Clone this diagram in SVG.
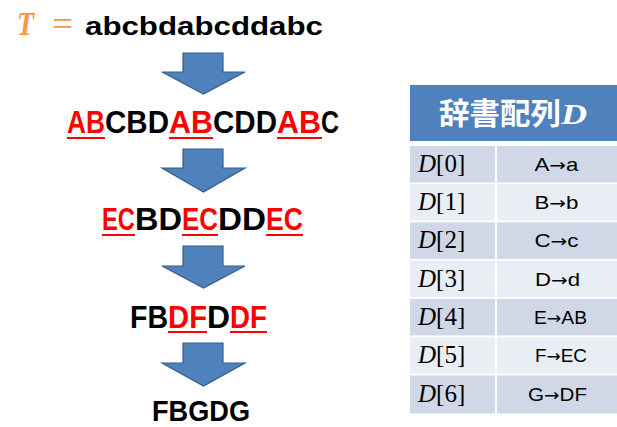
<svg xmlns="http://www.w3.org/2000/svg" width="617" height="427" viewBox="0 0 617 427">
<style>
.s{font-family:"Liberation Sans","DejaVu Sans",sans-serif;font-weight:bold;font-size:32px}
.r{fill:#ff0000}
.k{fill:#000000}
.ul{fill:#ff0000}
.arr{fill:#4f81bd;stroke:#385d8a;stroke-width:1.2}
.hd{fill:#4f81bd}
.dk{fill:#d0d8e8}
.lt{fill:#e9edf4}
.idx{font-family:"Liberation Serif","DejaVu Serif",serif;font-size:25px;fill:#000}
.val{font-family:"Liberation Sans","DejaVu Sans",sans-serif;font-size:19px;fill:#000;text-anchor:middle}
.ar{font-family:"DejaVu Sans",sans-serif;font-size:17px}
</style>
<rect width="617" height="427" fill="#ffffff"/>
<g id="line1">
<text y="35"><tspan x="17" font-family="Liberation Serif,serif" font-style="italic" font-weight="bold" font-size="33" fill="#f79646" textLength="17" lengthAdjust="spacingAndGlyphs">T</tspan><tspan x="52" font-family="Liberation Serif,serif" font-size="33" fill="#f79646" textLength="21" lengthAdjust="spacingAndGlyphs">=</tspan><tspan x="85" font-family="Liberation Sans,sans-serif" font-weight="bold" font-size="26" fill="#000" textLength="238" lengthAdjust="spacingAndGlyphs">abcbdabcddabc</tspan></text>
</g>
<g id="line2" class="s">
<text y="133"><tspan x="67" class="r" textLength="38" lengthAdjust="spacingAndGlyphs">AB</tspan><tspan x="105" class="k" textLength="64" lengthAdjust="spacingAndGlyphs">CBD</tspan><tspan x="169" class="r" textLength="44" lengthAdjust="spacingAndGlyphs">AB</tspan><tspan x="213" class="k" textLength="64" lengthAdjust="spacingAndGlyphs">CDD</tspan><tspan x="277" class="r" textLength="44" lengthAdjust="spacingAndGlyphs">AB</tspan><tspan x="321" class="k" textLength="18" lengthAdjust="spacingAndGlyphs">C</tspan></text>
<rect class="ul" x="67" y="137" width="38" height="2"/>
<rect class="ul" x="169" y="137" width="44" height="2"/>
<rect class="ul" x="277" y="137" width="45" height="2"/>
</g>
<g id="line3" class="s">
<text y="230"><tspan x="102" class="r" textLength="33" lengthAdjust="spacingAndGlyphs">EC</tspan><tspan x="135" class="k" textLength="47" lengthAdjust="spacingAndGlyphs">BD</tspan><tspan x="182" class="r" textLength="36" lengthAdjust="spacingAndGlyphs">EC</tspan><tspan x="218" class="k" textLength="48" lengthAdjust="spacingAndGlyphs">DD</tspan><tspan x="266" class="r" textLength="37" lengthAdjust="spacingAndGlyphs">EC</tspan></text>
<rect class="ul" x="102" y="234" width="33" height="2"/>
<rect class="ul" x="182" y="234" width="36" height="2"/>
<rect class="ul" x="266" y="234" width="37" height="2"/>
</g>
<g id="line4" class="s">
<text y="328"><tspan x="130" class="k" textLength="38" lengthAdjust="spacingAndGlyphs">FB</tspan><tspan x="168" class="r" textLength="39" lengthAdjust="spacingAndGlyphs">DF</tspan><tspan x="207" class="k" textLength="23" lengthAdjust="spacingAndGlyphs">D</tspan><tspan x="230" class="r" textLength="37" lengthAdjust="spacingAndGlyphs">DF</tspan></text>
<rect class="ul" x="168" y="331" width="39" height="2"/>
<rect class="ul" x="230" y="331" width="37" height="2"/>
</g>
<g id="line5">
<text x="152" y="421" font-family="Liberation Sans,sans-serif" font-weight="bold" font-size="30" fill="#000" textLength="98" lengthAdjust="spacingAndGlyphs">FBGDG</text>
</g>
<g id="connectors">
<path class="arr" d="M183,53 H223 V72 H245 L203.5,94 L162,72 H183 Z"/>
<path class="arr" d="M183,149 H223 V168 H245 L203.5,192 L162,168 H183 Z"/>
<path class="arr" d="M183,246 H223 V266 H245 L203.5,288 L162,266 H183 Z"/>
<path class="arr" d="M183,343 H223 V363 H245 L203.5,386 L162,363 H183 Z"/>
</g>
<g id="table">
<rect class="hd" x="410" y="85" width="207" height="56"/>
<text y="124"><tspan x="439" font-family="Noto Sans CJK JP,Noto Sans CJK SC,sans-serif" font-weight="bold" font-size="30" fill="#ffffff" textLength="122" lengthAdjust="spacingAndGlyphs">辞書配列</tspan><tspan x="561" font-family="Liberation Serif,serif" font-style="italic" font-weight="bold" font-size="30" fill="#ffffff" textLength="26" lengthAdjust="spacingAndGlyphs">D</tspan></text>
<g id="row0"><rect class="dk" x="410" y="146" width="85" height="36.5"/><rect class="dk" x="497" y="146" width="120" height="36.5"/>
<text class="idx" x="418" y="172"><tspan font-style="italic">D</tspan>[0]</text><text class="val" x="556.5" y="171" textLength="44" lengthAdjust="spacingAndGlyphs">A<tspan class="ar">→</tspan>a</text></g>
<g id="row1"><rect class="lt" x="410" y="184" width="85" height="36.5"/><rect class="lt" x="497" y="184" width="120" height="36.5"/>
<text class="idx" x="418" y="210"><tspan font-style="italic">D</tspan>[1]</text><text class="val" x="556.5" y="209" textLength="44" lengthAdjust="spacingAndGlyphs">B<tspan class="ar">→</tspan>b</text></g>
<g id="row2"><rect class="dk" x="410" y="222.3" width="85" height="36.5"/><rect class="dk" x="497" y="222.3" width="120" height="36.5"/>
<text class="idx" x="418" y="248.3"><tspan font-style="italic">D</tspan>[2]</text><text class="val" x="556.5" y="247.3" textLength="44" lengthAdjust="spacingAndGlyphs">C<tspan class="ar">→</tspan>c</text></g>
<g id="row3"><rect class="lt" x="410" y="260.6" width="85" height="36.5"/><rect class="lt" x="497" y="260.6" width="120" height="36.5"/>
<text class="idx" x="418" y="286.6"><tspan font-style="italic">D</tspan>[3]</text><text class="val" x="557.5" y="285.6" textLength="45" lengthAdjust="spacingAndGlyphs">D<tspan class="ar">→</tspan>d</text></g>
<g id="row4"><rect class="dk" x="410" y="298.9" width="85" height="36.5"/><rect class="dk" x="497" y="298.9" width="120" height="36.5"/>
<text class="idx" x="418" y="324.9"><tspan font-style="italic">D</tspan>[4]</text><text class="val" x="560.5" y="323.9" textLength="53" lengthAdjust="spacingAndGlyphs">E<tspan class="ar">→</tspan>AB</text></g>
<g id="row5"><rect class="lt" x="410" y="337.2" width="85" height="36.5"/><rect class="lt" x="497" y="337.2" width="120" height="36.5"/>
<text class="idx" x="418" y="363.2"><tspan font-style="italic">D</tspan>[5]</text><text class="val" x="561" y="362.2" textLength="52" lengthAdjust="spacingAndGlyphs">F<tspan class="ar">→</tspan>EC</text></g>
<g id="row6"><rect class="dk" x="410" y="375.5" width="85" height="38"/><rect class="dk" x="497" y="375.5" width="120" height="38"/>
<text class="idx" x="418" y="402"><tspan font-style="italic">D</tspan>[6]</text><text class="val" x="557.5" y="401" textLength="59" lengthAdjust="spacingAndGlyphs">G<tspan class="ar">→</tspan>DF</text></g>
</g>
</svg>
